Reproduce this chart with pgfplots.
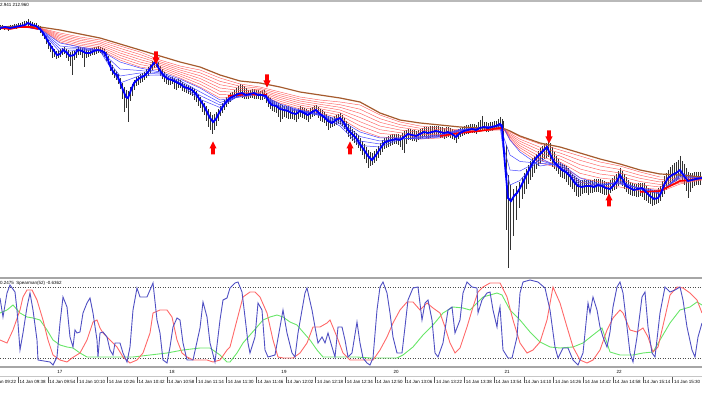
\documentclass[border=0pt]{standalone}
\usepackage{pgfplots}
\pgfplotsset{compat=1.18}
\usepackage{pgfplotstable}
\usepackage{fontspec}
\setmainfont{Liberation Sans}
\newcommand{\sm}{\fontsize{4.5}{5}\selectfont}
\definecolor{oscblue}{RGB}{80,80,195}
\definecolor{oscred}{RGB}{255,105,105}
\definecolor{oscgreen}{RGB}{105,230,105}
\definecolor{brownc}{RGB}{165,90,45}
\definecolor{redthin}{RGB}{255,95,95}
\definecolor{bluethin}{RGB}{70,70,255}
\pgfdeclareplotmark{dnarrow}{%
 \pgfpathmoveto{\pgfqpoint{-1.8pt}{6.5pt}}%
 \pgfpathlineto{\pgfqpoint{1.8pt}{6.5pt}}%
 \pgfpathlineto{\pgfqpoint{1.8pt}{0.5pt}}%
 \pgfpathlineto{\pgfqpoint{3.6pt}{0.5pt}}%
 \pgfpathlineto{\pgfqpoint{0pt}{-6.5pt}}%
 \pgfpathlineto{\pgfqpoint{-3.6pt}{0.5pt}}%
 \pgfpathlineto{\pgfqpoint{-1.8pt}{0.5pt}}%
 \pgfpathclose\pgfusepathqfill}
\pgfdeclareplotmark{uparrow}{%
 \pgfpathmoveto{\pgfqpoint{-1.8pt}{-6.5pt}}%
 \pgfpathlineto{\pgfqpoint{1.8pt}{-6.5pt}}%
 \pgfpathlineto{\pgfqpoint{1.8pt}{-0.5pt}}%
 \pgfpathlineto{\pgfqpoint{3.6pt}{-0.5pt}}%
 \pgfpathlineto{\pgfqpoint{0pt}{6.5pt}}%
 \pgfpathlineto{\pgfqpoint{-3.6pt}{-0.5pt}}%
 \pgfpathlineto{\pgfqpoint{-1.8pt}{-0.5pt}}%
 \pgfpathclose\pgfusepathqfill}

\pgfplotstableread{
x B T r1 r2 r3 r4 r5 R S b1 b2 b3
0 27 27 27.2 27.3 27.5 27.7 27.8 28 27 27.3 27.5 27.8
20 26 26 26.2 26.3 26.5 26.7 26.8 27 26 26 26 26
40 27 28 28.2 28.3 28.5 28.7 28.8 29 29 29.3 29.5 29.8
60 30 33 34.5 36 37.5 39 40.5 42 43 46 49 52
80 34 37 38.7 40.3 42 43.7 45.3 47 47 48 49 50
100 38 40 41.7 43.3 45 46.7 48.3 50 50 50.3 50.5 50.8
120 44 46 48.3 50.7 53 55.3 57.7 60 62 69 76 83
140 50 52 54.5 57 59.5 62 64.5 67 68 70.5 73 75.5
160 56 60 61.7 63.3 65 66.7 68.3 70 72 73 74 75
180 62 66 68 70 72 74 76 78 79 80.8 82.5 84.3
200 67 70 72.8 75.7 78.5 81.3 84.2 87 88 91.8 95.5 99.3
220 75 78 81.3 84.7 88 91.3 94.7 98 100 102.5 105 107.5
240 81 84 86.2 88.3 90.5 92.7 94.8 97 97 96.3 95.5 94.8
260 83 87 88.3 89.7 91 92.3 93.7 95 94 94 94 94
280 87 92 93.8 95.7 97.5 99.3 101.2 103 104 105.5 107 108.5
300 92 97 99 101 103 105 107 109 110 110.5 111 111.5
320 95 100 102.2 104.3 106.5 108.7 110.8 113 114 114.5 115 115.5
340 98 102 104.7 107.3 110 112.7 115.3 118 120 122 124 126
360 102 105 109.2 113.3 117.5 121.7 125.8 130 132 136.5 141 145.5
380 113 115 118.7 122.3 126 129.7 133.3 137 138 141 144 147
400 120 122 124.7 127.3 130 132.7 135.3 138 138 138.5 139 139.5
420 123 126 128.2 130.3 132.5 134.7 136.8 139 139 138.3 137.5 136.8
440 125 128 129.7 131.3 133 134.7 136.3 138 137 136.3 135.5 134.8
460 127 130 130.5 131 131.5 132 132.5 133 131 130.5 130 129.5
480 128 130 130.2 130.3 130.5 130.7 130.8 131 128 127.8 127.5 127.3
500 128 130 129.8 129.7 129.5 129.3 129.2 129 126 125.8 125.5 125.3
505 129 130 130.2 130.3 130.5 130.7 130.8 131 130 141 152 164
510 131 132 133.3 134.7 136 137.3 138.7 140 140 155 170 185
520 136 137 139.2 141.3 143.5 145.7 147.8 150 152 161.5 171 180.5
540 143 144 147.2 150.3 153.5 156.7 159.8 163 166 163.3 160.5 157.8
560 147 150 153 156 159 162 165 168 163 164.8 166.5 168.3
580 153 156 160.3 164.7 169 173.3 177.7 182 178 180.3 182.5 184.8
600 159 162 166 170 174 178 182 186 184 184.8 185.5 186.3
620 164 166 169.5 173 176.5 180 183.5 187 184 183 182 181
640 170 172 175.2 178.3 181.5 184.7 187.8 191 188 188.5 189 189.5
660 174 177 179.5 182 184.5 187 189.5 192 191 192 193 194
680 175 177 178.2 179.3 180.5 181.7 182.8 184 178 176.5 175 173.5
702 177 178 178.3 178.7 179 179.3 179.7 180 178 178 178 178
}\fan

\pgfplotstableread{
x hi lo
0 25 30
2 25 29
4 26 30
6 26 29
8 26 31
10 25 29
12 25 29
14 24 28
16 24 29
18 23 27
20 23 28
22 22 26
24 21 27
26 21 25
28 19 26
30 21 26
32 22 28
34 23 27
36 23 29
38 25 30
40 26 33
42 29 36
44 33 39
46 36 44
48 40 49
50 43 52
52 46 58
54 49 57
56 51 59
58 50 58
60 49 57
62 48 55
64 47 54
66 49 58
68 50 61
70 52 66
72 51 75
74 51 60
76 49 58
78 47 55
80 47 55
82 48 58
84 48 67
86 49 58
88 50 57
90 49 56
92 48 55
94 47 55
96 47 54
98 46 53
100 47 53
102 48 55
104 49 57
106 52 61
108 56 65
110 61 71
112 65 75
114 69 78
116 71 80
118 74 84
120 78 89
122 83 99
124 87 112
126 90 108
128 91 122
130 87 101
132 84 96
134 80 90
136 77 86
138 76 85
140 74 83
142 73 82
144 72 80
146 69 78
148 67 76
150 64 73
152 61 70
154 59 68
156 58 67
158 62 72
160 66 76
162 69 79
164 72 82
166 74 84
168 76 85
170 77 85
172 77 84
174 78 89
176 79 90
178 79 88
180 80 88
182 82 91
184 84 92
186 85 93
188 85 94
190 86 95
192 87 96
194 89 100
196 91 102
198 94 106
200 97 108
202 100 112
204 103 115
206 106 121
208 109 127
210 112 130
212 115 134
214 114 130
216 112 126
218 109 121
220 106 116
222 103 113
224 100 110
226 97 107
228 95 104
230 93 102
232 92 100
234 90 99
236 88 98
238 86 97
240 84 97
242 85 98
244 86 99
246 88 99
248 90 99
250 90 98
252 89 98
254 89 99
256 90 99
258 90 99
260 91 100
262 90 100
264 90 99
266 93 103
268 96 107
270 98 109
272 100 111
274 101 112
276 102 113
278 103 117
280 104 122
282 105 119
284 106 117
286 106 118
288 106 119
290 107 119
292 108 119
294 109 120
296 110 122
298 108 119
300 106 117
302 107 118
304 108 119
306 109 120
308 110 122
310 108 119
312 107 117
314 106 116
316 105 115
318 107 118
320 109 121
322 110 122
324 112 123
326 114 126
328 116 130
330 117 128
332 118 127
334 116 126
336 115 125
338 114 124
340 113 124
342 115 126
344 118 129
346 121 133
348 124 137
350 126 139
352 129 141
354 131 143
356 133 145
358 135 148
360 138 151
362 141 155
364 144 159
366 147 163
368 150 168
370 152 166
372 153 165
374 151 163
376 149 161
378 146 158
380 143 155
382 140 152
384 138 149
386 137 148
388 136 147
390 135 146
392 134 145
394 134 144
396 134 144
398 134 145
400 135 147
402 133 150
404 131 153
406 130 144
408 129 140
410 129 140
412 130 141
414 130 141
416 131 142
418 130 140
420 129 139
422 128 138
424 127 137
426 127 138
428 127 139
430 126 138
432 126 137
434 126 136
436 126 136
438 126 137
440 127 138
442 127 138
444 128 139
446 127 138
448 127 137
450 128 138
452 129 139
454 130 140
456 131 143
458 129 139
460 128 137
462 127 136
464 126 135
466 125 134
468 125 134
470 124 133
472 124 133
474 124 133
476 125 134
478 122 132
480 120 131
482 116 131
484 122 131
486 122 132
488 123 132
490 122 131
492 122 131
494 121 130
496 121 130
498 119 129
500 117 129
502 119 133
503 121 140
506 145 230
508 175 268
510 185 250
513 189 236
516 186 220
519 182 208
522 177 199
524 173 194
526 169 189
528 165 184
530 161 180
532 158 177
534 156 173
536 154 169
538 151 166
540 148 164
542 146 161
544 144 159
546 143 158
548 141 157
550 143 161
552 147 167
554 152 169
556 156 171
558 159 174
560 162 177
562 164 178
564 165 179
566 166 182
568 168 185
570 171 187
572 174 189
574 176 192
576 178 196
578 179 197
580 180 196
582 180 194
584 180 193
586 180 193
588 180 195
590 180 193
592 180 193
594 179 192
596 179 192
598 179 192
600 179 193
602 180 194
604 181 195
606 182 195
608 182 197
610 180 193
612 178 191
614 176 190
616 174 189
618 171 186
620 168 184
622 171 186
624 174 189
626 177 192
628 180 194
630 182 195
632 183 196
634 184 196
636 184 197
638 183 197
640 183 196
642 183 197
644 183 200
646 186 201
648 188 203
650 189 204
652 190 206
654 190 205
656 190 204
658 188 203
660 186 201
662 181 197
664 176 194
666 173 190
668 170 187
670 167 185
672 165 183
674 163 182
676 162 181
678 160 179
680 156 177
682 161 181
684 164 185
686 168 191
688 172 198
690 173 192
692 173 188
694 172 186
696 172 185
698 172 185
700 172 185
}\bars

\newcommand{\tl}[2]{%
 \draw[gray!70!black, line width=0.4pt] (axis cs:#1,377.5) -- (axis cs:#1,383);
 \node[anchor=west, inner sep=0pt, font=\sm] at (axis cs:#1+1.5,382) {#2};}

\begin{document}
\begin{tikzpicture}
\begin{axis}[
  scale only axis, width=702pt, height=395pt,
  xmin=0, xmax=702, ymin=0, ymax=395, y dir=reverse,
  hide axis, clip=true,
]
% frames
\draw[gray!55, line width=1.3pt] (axis cs:0,1) -- (axis cs:702,1);
\draw[gray!70, line width=2.5pt] (axis cs:0,278) -- (axis cs:702,278);
\draw[gray!70, line width=2pt] (axis cs:0,367.5) -- (axis cs:702,367.5);
\draw[gray!45, line width=0.6pt] (axis cs:0,376) -- (axis cs:702,376);
\draw[gray!60!black, line width=0.5pt, dash pattern=on 1pt off 1.5pt] (axis cs:0,287.5) -- (axis cs:702,287.5);
\draw[gray!60!black, line width=0.5pt, dash pattern=on 1pt off 1.5pt] (axis cs:0,358) -- (axis cs:702,358);

% price bars
\addplot[draw=none, mark=none, forget plot,
  error bars/.cd, y dir=plus, y explicit, error mark=none,
  error bar style={draw=black!80, line width=0.5pt}]
  table[x=x, y=hi, y error plus expr=\thisrow{lo}-\thisrow{hi}] {\bars};

% red fan
\addplot[redthin, line width=0.45pt] table[x=x,y=T]{\fan};
\addplot[redthin, line width=0.45pt] table[x=x,y=r1]{\fan};
\addplot[redthin, line width=0.45pt] table[x=x,y=r2]{\fan};
\addplot[redthin, line width=0.45pt] table[x=x,y=r3]{\fan};
\addplot[redthin, line width=0.45pt] table[x=x,y=r4]{\fan};
\addplot[redthin, line width=0.45pt] table[x=x,y=r5]{\fan};
\addplot[redthin, line width=0.45pt] table[x=x,y=R]{\fan};
% blue fan
\addplot[bluethin, line width=0.5pt] table[x=x,y=S]{\fan};
\addplot[bluethin, line width=0.5pt] table[x=x,y=b1]{\fan};
\addplot[bluethin, line width=0.5pt] table[x=x,y=b2]{\fan};
\addplot[bluethin, line width=0.5pt] table[x=x,y=b3]{\fan};
% brown slow line
\addplot[brownc, line width=1.2pt] table[x=x,y=B]{\fan};
% thick red segments
\addplot[red, line width=1.6pt] coordinates {(0,28)(10,29)(20,27)(30,27)(38,29)};
\addplot[red, line width=1.6pt] coordinates {(228,96)(240,95)(250,94)(260,95)(267,95)};
\addplot[red, line width=1.6pt] coordinates {(440,136)(460,133)(480,131)(500,128)(503,128)};
\addplot[red, line width=1.6pt] coordinates {(640,192)(660,191)(670,186)(680,181)(690,180)(702,178)};
% thick blue
\addplot[blue, line width=1.8pt] coordinates {
(0,28)(5,27)(10,28)(15,27)(20,26)(25,25)(28,23)(32,25)(36,26)(40,29)(43,33)(46,38)(50,45)(54,51)(57,55)(60,54)(63,50)(66,52)(70,56)(74,55)(78,50)(82,51)(86,53)(90,53)(94,51)(98,50)(102,51)(105,53)(108,60)(111,68)(114,73)(117,75)(120,82)(123,90)(126,97)(128,98)(131,90)(134,83)(137,80)(140,78)(144,76)(148,72)(151,67)(154,63)(156,62)(158,67)(161,72)(164,76)(168,79)(172,80)(176,82)(180,84)(184,87)(188,88)(192,90)(196,94)(200,100)(204,106)(207,112)(210,118)(213,122)(216,119)(219,113)(222,108)(226,102)(230,98)(234,96)(238,94)(242,93)(246,95)(250,94)(254,93)(258,95)(262,95)(266,96)(269,102)(272,105)(276,106)(280,109)(284,110)(288,111)(292,113)(296,114)(300,111)(304,113)(308,115)(312,112)(316,110)(320,114)(324,117)(328,121)(332,123)(336,120)(340,118)(344,123)(348,130)(352,134)(356,138)(360,144)(364,150)(368,156)(372,160)(376,155)(380,149)(384,143)(388,141)(392,140)(396,139)(400,140)(404,137)(408,134)(412,135)(416,136)(420,134)(424,132)(428,133)(432,132)(436,131)(440,132)(444,133)(448,132)(452,134)(456,137)(460,133)(464,131)(468,130)(472,129)(476,130)(480,128)(484,127)(488,128)(492,127)(496,126)(500,124)(502,126)(505,165)(508,198)(511,201)(514,196)(517,193)(520,188)(524,180)(528,172)(532,164)(536,158)(540,154)(544,150)(547,147)(550,154)(554,162)(558,166)(562,170)(566,172)(570,176)(574,182)(578,186)(582,187)(586,186)(590,186)(594,187)(598,185)(602,186)(606,188)(610,189)(614,185)(617,181)(620,175)(623,180)(626,186)(630,188)(634,190)(638,189)(642,188)(646,192)(650,196)(654,199)(658,198)(661,193)(664,185)(668,178)(672,175)(676,173)(680,170)(684,176)(688,181)(692,180)(696,179)(702,178)};

% arrows
\addplot[only marks, mark=dnarrow, mark options={fill=red, draw=none}] coordinates {(156,58) (267,81) (549,137)};
\addplot[only marks, mark=uparrow, mark options={fill=red, draw=none}] coordinates {(213,148) (350,148) (609,200)};

% oscillator
\addplot[oscgreen, line width=0.9pt] coordinates {
(0,313)(7,310)(13,305)(20,313)(27,317)(33,318)(40,320)(47,330)(53,340)(60,345)(67,347)(73,348)(80,353)(87,357)(100,357)(117,357)(133,357)(150,355)(167,353)(183,350)(200,348)(210,348)(220,355)(227,362)(230,362)(237,353)(243,343)(250,335)(257,327)(263,320)(270,317)(277,315)(283,317)(290,322)(297,325)(303,332)(310,340)(317,350)(323,357)(337,357)(357,357)(370,358)(383,358)(397,358)(403,355)(413,347)(423,335)(433,325)(443,313)(453,307)(463,308)(470,310)(477,303)(483,297)(497,293)(502,295)(510,310)(520,320)(530,332)(540,342)(550,347)(560,348)(573,347)(583,343)(593,335)(602,328)(605,337)(610,352)(620,355)(633,355)(643,353)(653,352)(660,340)(670,323)(680,310)(690,307)(697,302)(702,305)};
\addplot[oscred, line width=0.9pt] coordinates {
(0,340)(7,343)(13,330)(20,310)(23,297)(27,290)(32,290)(37,300)(40,310)(43,320)(48,340)(53,355)(60,360)(67,362)(72,358)(80,353)(87,340)(93,322)(97,320)(100,328)(103,333)(110,340)(117,347)(123,357)(130,363)(137,360)(143,353)(150,333)(153,313)(160,310)(167,310)(172,317)(177,340)(182,353)(187,357)(193,360)(200,360)(207,360)(213,362)(220,360)(227,350)(230,347)(237,320)(243,297)(250,292)(255,292)(260,297)(267,313)(273,340)(278,357)(283,358)(293,358)(300,353)(307,343)(313,327)(320,327)(327,323)(330,320)(337,337)(343,353)(350,360)(363,360)(373,360)(380,350)(387,337)(393,323)(400,310)(407,302)(413,302)(420,310)(427,303)(433,308)(440,313)(445,327)(450,343)(455,353)(460,348)(467,327)(473,307)(478,292)(483,287)(490,283)(500,283)(507,297)(513,320)(520,343)(527,353)(533,350)(540,342)(547,320)(553,287)(560,303)(567,327)(573,347)(580,360)(587,363)(593,360)(600,350)(607,330)(613,318)(620,310)(623,313)(630,330)(637,332)(643,328)(648,337)(653,352)(658,347)(665,317)(670,295)(677,287)(683,288)(690,293)(697,300)(702,313)};
\addplot[oscblue, line width=0.9pt] coordinates {
(0,298)(3,317)(7,293)(10,285)(15,292)(17,310)(20,350)(23,333)(27,307)(30,293)(33,310)(37,340)(38,360)(50,362)(53,365)(57,357)(60,323)(63,297)(67,307)(70,337)(73,347)(75,330)(77,333)(80,332)(83,313)(87,303)(90,298)(93,313)(97,340)(98,357)(100,333)(103,332)(107,337)(110,350)(113,355)(115,343)(120,343)(123,353)(127,362)(130,347)(133,310)(137,288)(140,297)(143,297)(147,297)(150,290)(153,283)(157,320)(160,333)(163,360)(167,363)(170,347)(173,327)(177,318)(180,320)(183,343)(187,360)(193,360)(200,328)(203,302)(207,317)(210,343)(215,362)(220,320)(223,300)(227,298)(230,288)(235,283)(238,282)(242,292)(245,317)(248,343)(250,353)(255,337)(258,303)(262,310)(265,350)(268,357)(275,355)(280,327)(283,310)(287,333)(292,353)(295,357)(298,333)(302,310)(305,293)(307,288)(312,310)(315,327)(318,343)(322,337)(325,343)(328,333)(332,347)(335,357)(338,327)(342,327)(345,340)(348,357)(352,353)(357,322)(360,343)(363,358)(367,363)(370,365)(373,358)(377,310)(380,287)(383,282)(387,293)(390,313)(393,337)(397,353)(402,353)(405,327)(408,300)(413,288)(418,287)(422,320)(425,303)(428,300)(432,320)(435,353)(438,357)(443,343)(448,310)(452,307)(455,333)(460,320)(463,293)(467,282)(472,287)(477,288)(478,313)(482,300)(487,293)(490,292)(493,310)(497,327)(498,317)(500,307)(503,350)(508,358)(512,358)(517,337)(520,293)(523,282)(530,280)(538,282)(545,288)(550,310)(555,347)(558,358)(563,348)(568,348)(573,360)(578,365)(583,353)(588,303)(590,313)(593,297)(597,310)(600,327)(603,337)(607,347)(610,332)(613,307)(617,287)(620,282)(623,293)(627,327)(630,353)(633,362)(637,337)(642,297)(645,292)(648,327)(652,353)(655,357)(660,313)(665,287)(670,292)(675,290)(680,287)(683,300)(687,327)(692,350)(695,357)(698,337)(702,323)};

% texts
\node[anchor=west, inner sep=0pt, font=\sm] at (axis cs:0,5) {2.941 212.960};
\node[anchor=west, inner sep=0pt, font=\sm] at (axis cs:0,283.5) {0.2475\ \ Spearman(52) -0.6362};
\node[font=\sm, inner sep=0pt] at (axis cs:60,372) {17};
\node[font=\sm, inner sep=0pt] at (axis cs:172,372) {18};
\node[font=\sm, inner sep=0pt] at (axis cs:284,372) {19};
\node[font=\sm, inner sep=0pt] at (axis cs:396,372) {20};
\node[font=\sm, inner sep=0pt] at (axis cs:507,372) {21};
\node[font=\sm, inner sep=0pt] at (axis cs:619,372) {22};
\tl{-11.7}{14 Jan 09:22}
\tl{18}{14 Jan 09:38}
\tl{47.7}{14 Jan 09:54}
\tl{77.5}{14 Jan 10:10}
\tl{107.2}{14 Jan 10:26}
\tl{137}{14 Jan 10:42}
\tl{166.7}{14 Jan 10:58}
\tl{196.5}{14 Jan 11:14}
\tl{226.2}{14 Jan 11:30}
\tl{256}{14 Jan 11:46}
\tl{285.7}{14 Jan 12:02}
\tl{315.5}{14 Jan 12:18}
\tl{345.2}{14 Jan 12:34}
\tl{375}{14 Jan 12:50}
\tl{404.7}{14 Jan 13:06}
\tl{434.5}{14 Jan 13:22}
\tl{464.2}{14 Jan 13:38}
\tl{494}{14 Jan 13:54}
\tl{523.7}{14 Jan 14:10}
\tl{553.5}{14 Jan 14:26}
\tl{583.2}{14 Jan 14:42}
\tl{613}{14 Jan 14:58}
\tl{642.7}{14 Jan 15:14}
\tl{672.5}{14 Jan 15:30}
\end{axis}
\pgfresetboundingbox
\path[use as bounding box] (current axis.south west) rectangle (current axis.north east);
\end{tikzpicture}
\end{document}
